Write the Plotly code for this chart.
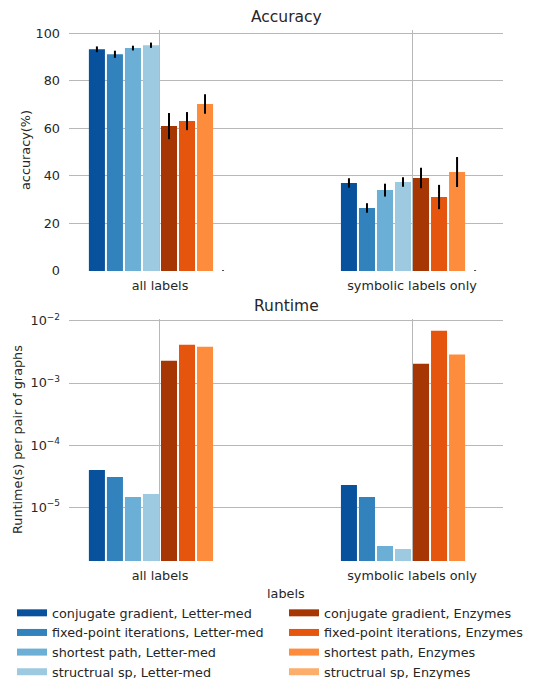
import plotly.graph_objects as go
from plotly.subplots import make_subplots

# Category labels on the x axis
categories = ["all labels", "symbolic labels only"]

# Series names (method, dataset)
series_names = [
    "conjugate gradient, Letter-med",
    "fixed-point iterations, Letter-med",
    "shortest path, Letter-med",
    "structrual sp, Letter-med",
    "conjugate gradient, Enzymes",
    "fixed-point iterations, Enzymes",
    "shortest path, Enzymes",
    "structrual sp, Enzymes",
]

# Accuracy (%) per series, one value per category
acc_cg_letter = [93.2, 37.0]
acc_fp_letter = [91.1, 26.5]
acc_sp_letter = [93.7, 34.0]
acc_ssp_letter = [94.9, 37.4]
acc_cg_enz = [60.9, 39.1]
acc_fp_enz = [63.0, 31.1]
acc_sp_enz = [70.2, 41.6]
acc_ssp_enz = [0.0, 0.0]

# Accuracy standard deviations
std_cg_letter = [1.2, 2.0]
std_fp_letter = [1.5, 2.0]
std_sp_letter = [1.0, 2.7]
std_ssp_letter = [1.1, 2.0]
std_cg_enz = [5.5, 4.3]
std_fp_enz = [3.8, 5.1]
std_sp_enz = [4.1, 6.3]
std_ssp_enz = [0.3, 0.3]

# Runtime (s) per pair of graphs
rt_cg_letter = [3.95e-5, 2.26e-5]
rt_fp_letter = [3.05e-5, 1.45e-5]
rt_sp_letter = [1.45e-5, 2.35e-6]
rt_ssp_letter = [1.62e-5, 2.10e-6]
rt_cg_enz = [2.29e-3, 2.04e-3]
rt_fp_enz = [4.15e-3, 6.98e-3]
rt_sp_enz = [3.85e-3, 2.87e-3]
rt_ssp_enz = [None, None]

# Log-axis tick positions and labels
rt_tickvals = [1e-5, 1e-4, 1e-3, 1e-2]
rt_ticktext = ["10<sup>−5</sup>", "10<sup>−4</sup>", "10<sup>−3</sup>", "10<sup>−2</sup>"]
acc_tickvals = [0, 20, 40, 60, 80, 100]

colors = ["#08519c", "#3182bd", "#6baed6", "#9ecae1",
          "#a63603", "#e6550d", "#fd8d3c", "#fdae6b"]

acc_values = [acc_cg_letter, acc_fp_letter, acc_sp_letter, acc_ssp_letter,
              acc_cg_enz, acc_fp_enz, acc_sp_enz, acc_ssp_enz]
acc_errors = [std_cg_letter, std_fp_letter, std_sp_letter, std_ssp_letter,
              std_cg_enz, std_fp_enz, std_sp_enz, std_ssp_enz]
rt_values = [rt_cg_letter, rt_fp_letter, rt_sp_letter, rt_ssp_letter,
             rt_cg_enz, rt_fp_enz, rt_sp_enz, rt_ssp_enz]

FONT = "DejaVu Sans"
TEXT = "#262626"
GRID = "#b8b8b8"
FS = 12.8
W, H = 536, 679

fig = make_subplots(rows=2, cols=1, vertical_spacing=0.09)

for i, name in enumerate(series_names):
    fig.add_trace(go.Bar(
        x=categories, y=acc_values[i], name=name,
        marker=dict(color=colors[i], line=dict(width=0)),
        error_y=dict(type="data", array=acc_errors[i], color="black",
                     thickness=2, width=0),
        showlegend=False,
    ), row=1, col=1)
    fig.add_trace(go.Bar(
        x=categories, y=rt_values[i], name=name,
        marker=dict(color=colors[i], line=dict(width=0)),
        showlegend=False,
    ), row=2, col=1)

# Legend entries: thick colour swatches, Letter-med in one column, Enzymes in the other
for i, name in enumerate(series_names):
    fig.add_trace(go.Scatter(
        x=categories, y=[None, None], mode="lines", name=name,
        line=dict(color=colors[i], width=7),
        legend="legend" if i < 4 else "legend2",
        showlegend=True, hoverinfo="skip",
    ), row=1, col=1)

# Plot area: top panel 30-271px, bottom panel 319-561px
top_px, bottom_px = 30, 561
area_h = bottom_px - top_px
fig.update_layout(
    width=W, height=H,
    margin=dict(l=69, r=33, t=top_px, b=H - bottom_px, autoexpand=False),
    paper_bgcolor="white", plot_bgcolor="white",
    font=dict(family=FONT, size=FS, color=TEXT),
    barmode="group", bargap=0.428, bargroupgap=0.11,
    showlegend=True,
)

fig.update_layout(
    yaxis=dict(domain=[(bottom_px - 271) / area_h, 1.0]),
    yaxis2=dict(domain=[0.0, (bottom_px - 319) / area_h]),
    xaxis=dict(anchor="y"),
    xaxis2=dict(anchor="y2"),
)

for r in (1, 2):
    fig.update_xaxes(
        row=r, col=1, type="category", categoryarray=categories,
        range=[-0.361, 1.361], automargin=False,
        showgrid=True, gridcolor=GRID, gridwidth=1,
        showline=False, zeroline=False, ticks="", ticklen=0,
        ticklabelstandoff=5,
        tickfont=dict(family=FONT, size=FS, color=TEXT),
    )

fig.update_yaxes(
    row=1, col=1, range=[0, 101.3], tickvals=acc_tickvals, automargin=False,
    showgrid=True, gridcolor=GRID, gridwidth=1, zeroline=False,
    showline=False, ticks="", ticklabelstandoff=8,
    tickfont=dict(family=FONT, size=FS, color=TEXT),
)
fig.update_yaxes(
    row=2, col=1, type="log", range=[-5.87, -1.968], automargin=False,
    tickvals=rt_tickvals, ticktext=rt_ticktext,
    showgrid=True, gridcolor=GRID, gridwidth=1, zeroline=False,
    showline=False, ticks="", ticklabelstandoff=8,
    tickfont=dict(family=FONT, size=FS, color=TEXT),
)


def px_x(px):
    return (px - 69) / (W - 69 - 33)


def px_y(py):
    return (bottom_px - py) / area_h


# Panel titles and axis titles
fig.add_annotation(text="Accuracy", xref="paper", yref="paper", x=0.5, y=px_y(17),
                   showarrow=False, font=dict(family=FONT, size=15.5, color=TEXT),
                   yanchor="middle")
fig.add_annotation(text="Runtime", xref="paper", yref="paper", x=0.5, y=px_y(306),
                   showarrow=False, font=dict(family=FONT, size=15.5, color=TEXT),
                   yanchor="middle")
fig.add_annotation(text="accuracy(%)", xref="paper", yref="paper",
                   x=px_x(25), y=px_y(150), textangle=-90, showarrow=False,
                   xanchor="center", yanchor="middle",
                   font=dict(family=FONT, size=FS, color=TEXT))
fig.add_annotation(text="Runtime(s) per pair of graphs", xref="paper", yref="paper",
                   x=px_x(17), y=px_y(440), textangle=-90, showarrow=False,
                   xanchor="center", yanchor="middle",
                   font=dict(family=FONT, size=FS, color=TEXT))
fig.add_annotation(text="labels", xref="paper", yref="paper",
                   x=0.5, y=px_y(593), showarrow=False,
                   xanchor="center", yanchor="middle",
                   font=dict(family=FONT, size=FS, color=TEXT))

legend_style = dict(
    orientation="v", yanchor="top", xanchor="left",
    xref="container", yref="container",
    font=dict(family=FONT, size=12.8, color=TEXT),
    bgcolor="rgba(0,0,0,0)", itemwidth=30, tracegroupgap=0,
    itemclick=False, itemdoubleclick=False,
)
fig.update_layout(
    legend=dict(x=12 / W, y=1 - 598 / H, **legend_style),
    legend2=dict(x=284 / W, y=1 - 598 / H, **legend_style),
)

fig.write_html("out.html")
